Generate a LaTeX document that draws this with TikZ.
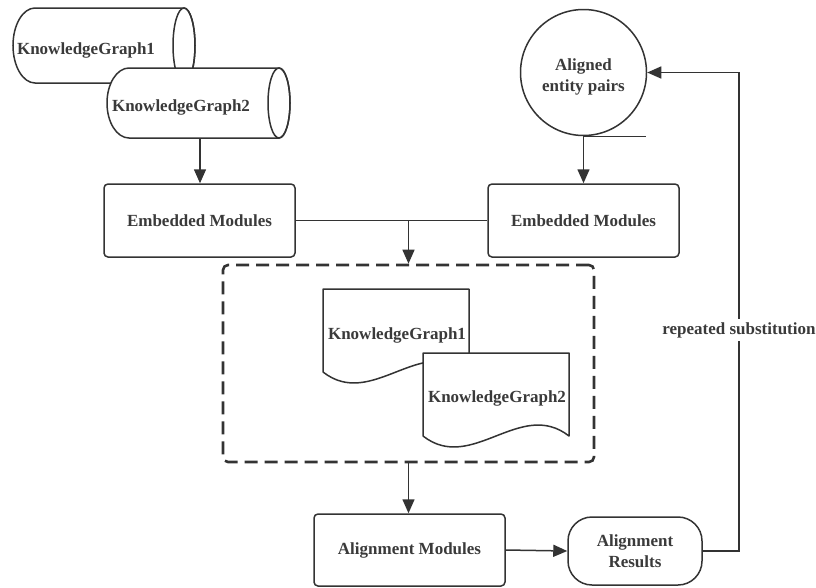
\documentclass[tikz,border=0pt]{standalone}
\usepackage{fontspec}
\setmainfont{Liberation Serif}
\usetikzlibrary{arrows.meta}
\definecolor{ink}{HTML}{333333}
\definecolor{txt}{HTML}{3A3A3A}
\begin{document}
\begin{tikzpicture}[x=1pt,y=-1pt,line width=1.5pt,color=ink,
  lbl/.style={text=txt,font=\fontsize{17}{21.5}\selectfont\bfseries,align=center,inner sep=1pt},
  box/.style={draw=ink,rounded corners=4pt,minimum width=191pt,minimum height=73pt,lbl},
  stadium/.style={draw=ink,rounded corners=24pt,minimum width=134pt,minimum height=68pt,lbl},
  arr/.style={-{Triangle[length=14pt,width=12pt]}},
  doc/.style={draw=ink,fill=white,line join=round}]
\useasboundingbox (0,0) rectangle (816,587);

% ---- cylinder 1
\draw[fill=white] (184,8) -- (35,8) .. controls (22.85,8) and (13,24.79) .. (13,45.5)
  .. controls (13,66.21) and (22.85,83) .. (35,83) -- (184,83)
  .. controls (190.08,83) and (195,66.21) .. (195,45.5)
  .. controls (195,24.79) and (190.08,8) .. (184,8) -- cycle;
\draw (184,45.5) ellipse [x radius=11, y radius=37.5];
\node[lbl] (kg1) at (86,50) {KnowledgeGraph1};

% ---- cylinder 2
\draw[fill=white] (279,68) -- (129,68) .. controls (116.85,68) and (107,83.67) .. (107,103)
  .. controls (107,122.33) and (116.85,138) .. (129,138) -- (279,138)
  .. controls (285.08,138) and (290,122.33) .. (290,103)
  .. controls (290,83.67) and (285.08,68) .. (279,68) -- cycle;
\draw (279,103) ellipse [x radius=11, y radius=35];
\node[lbl] (kg2) at (181,107) {KnowledgeGraph2};
\coordinate (kg2b) at (200,138);

% ---- aligned entity pairs (sequential storage)
\node[draw=ink,circle,minimum size=126pt,inner sep=0pt] (aep) at (583.5,72.5) {};
\node[lbl] (aept) at (583.5,77) {Aligned\\entity pairs};
\draw (aep.south) -- ++(62,0);

% ---- embedded modules
\node[box] (lem) at (199.5,220.5) {Embedded Modules};
\node[box] (rem) at (583.5,220.5) {Embedded Modules};

% ---- dashed area
\node[draw=ink,line width=2.6pt,dash pattern=on 13pt off 7pt,rounded corners=5pt,
      minimum width=371pt,minimum height=197pt] (dbox) at (408.5,363.5) {};

% ---- documents
\draw[doc] (323,372) -- (323,289) -- (469,289) -- (469,372)
  .. controls (420.3,334) and (371.7,410) .. (323,372) -- cycle;
\node[lbl] (d1) at (397,335) {KnowledgeGraph1};
\draw[doc] (423,436) -- (423,353) -- (569,353) -- (569,436)
  .. controls (520.3,398) and (471.7,474) .. (423,436) -- cycle;
\node[lbl] (d2) at (497,398) {KnowledgeGraph2};

% ---- alignment
\node[box,minimum height=72pt] (am) at (409.5,550) {Alignment Modules};
\node[stadium] (ar) at (635,551) {Alignment\\Results};

% ---- connectors
\draw[arr] (kg2b) -- (kg2b |- lem.north);
\draw[arr] (aep.south) -- (rem.north);
\draw (lem.east) -- (rem.west);
\draw[arr] (lem.east -| dbox.north) -- (dbox.north);
\draw[arr] (dbox.south) -- (dbox.south |- am.north);
\draw[arr] (am.east) -- (ar.west);
\coordinate (fb1) at (739,551);
\coordinate (fb2) at (739,72.5);
\draw[arr] (ar.east) -- (fb1) -- (fb2) -- (aep.east);
\node[lbl,fill=white,inner sep=3pt] (rs) at (739,330) {repeated substitution};
\end{tikzpicture}
\end{document}
